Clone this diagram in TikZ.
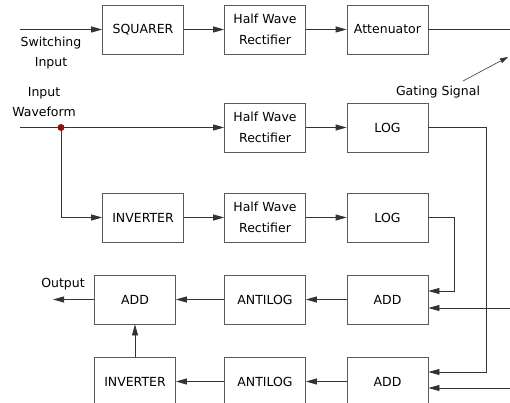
\documentclass[tikz,border=0pt]{standalone}
\usepackage{fontspec}
\setmainfont{DejaVu Sans}
\usetikzlibrary{arrows.meta}
\definecolor{dotred}{HTML}{8B1010}
\tikzset{
  blk/.style={draw=black!65, line width=0.8pt, minimum width=81pt, minimum height=49pt, inner sep=0pt, align=center, font=\fontsize{12.5}{21}\selectfont},
  lbl/.style={inner sep=0pt, align=center, font=\fontsize{12.5}{20}\selectfont},
  wire/.style={draw=black!80, line width=0.8pt, -{Triangle[length=11pt,width=6pt]}},
  plain/.style={draw=black!80, line width=0.8pt},
}
\begin{document}
\begin{tikzpicture}[x=1pt,y=-1pt]
\useasboundingbox (0,0) rectangle (510,403);
\clip (0,0) rectangle (510,403);
% boxes
\node[blk] (sq) at (143,29.5) {SQUARER};
\node[blk] (hw1) at (265,29.5) {Half Wave\\Rectifier};
\node[blk] (att) at (387.5,29.5) {Attenuator};
\node[blk] (hw2) at (265,127.5) {Half Wave\\Rectifier};
\node[blk] (log1) at (387.5,127.5) {LOG};
\node[blk] (inv1) at (143,217.5) {INVERTER};
\node[blk] (hw3) at (265,217.5) {Half Wave\\Rectifier};
\node[blk] (log2) at (387.5,217.5) {LOG};
\node[blk] (addr1) at (387.5,299.5) {ADD};
\node[blk] (anti1) at (265,299.5) {ANTILOG};
\node[blk] (addl) at (135,299.5) {ADD};
\node[blk] (inv2) at (135,381.5) {INVERTER};
\node[blk] (anti2) at (265,381.5) {ANTILOG};
\node[blk] (addr2) at (387.5,381.5) {ADD};
% labels
\node[lbl] (swl) at (51,53) {Switching\\Input};
\node[lbl] (iwl) at (44,102) {Input\\Waveform};
\node[lbl] (gsl) at (438,92) {Gating Signal};
\node[lbl] (outl) at (63,284) {Output};
% coordinates
\coordinate (swin) at (20,29.5);
\coordinate (wvin) at (20,127.5);
\coordinate (dot) at (61,127.5);
\coordinate (attout) at (510,29.5);
\coordinate (gs1) at (463,81);
\coordinate (gs2) at (508,57);
\coordinate (outend) at (53,299.5);
\coordinate (r1) at (510,308);
\coordinate (r2) at (510,388);
\coordinate (t1) at (486,127.5);
\coordinate (t2) at (454,217.5);
% connectors
\draw[wire] (swin) -- (sq);
\draw[wire] (sq) -- (hw1);
\draw[wire] (hw1) -- (att);
\draw[plain] (att) -- (attout);
\draw[plain, -{Triangle[length=8pt,width=5pt]}, line width=0.6pt] (gs1) -- (gs2);
\draw[wire] (wvin) -- (hw2);
\draw[wire] (hw2) -- (log1);
\draw[wire] (dot) |- (inv1);
\draw[wire] (inv1) -- (hw3);
\draw[wire] (hw3) -- (log2);
\draw[wire] (log1.east) -- (t1) |- ([yshift=9.5pt]addr2.east);
\draw[wire] (log2.east) -- (t2) |- ([yshift=8.5pt]addr1.east);
\draw[wire] (r1) -- (r1 -| addr1.east);
\draw[wire] (r2) -- (r2 -| addr2.east);
\draw[wire] (addr1) -- (anti1);
\draw[wire] (anti1) -- (addl);
\draw[wire] (addl) -- (outend);
\draw[wire] (addr2) -- (anti2);
\draw[wire] (anti2) -- (inv2);
\draw[wire] (inv2) -- (addl);
\fill[dotred] (dot) circle (3.5pt);
\end{tikzpicture}
\end{document}
